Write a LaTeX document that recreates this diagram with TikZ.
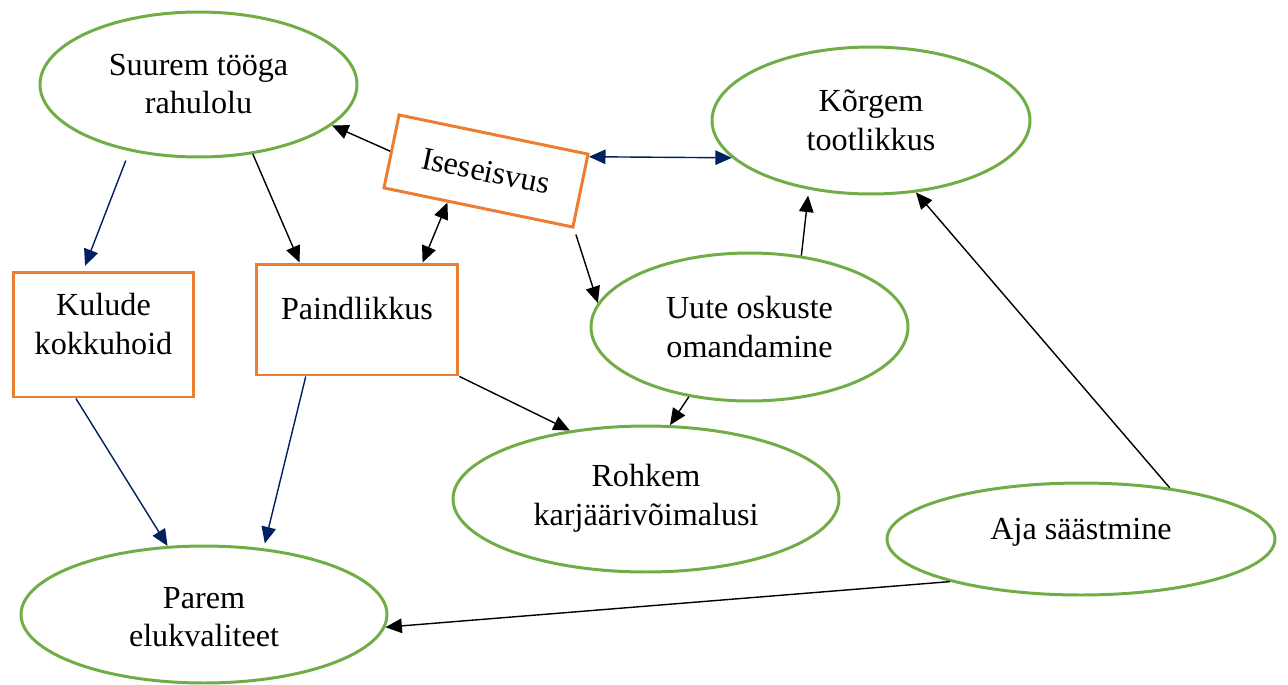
\documentclass[tikz,border=0pt]{standalone}
\usepackage{fontspec}
\setmainfont{Liberation Serif}
\usetikzlibrary{arrows.meta,calc,shapes.geometric}
\definecolor{grn}{RGB}{112,173,71}
\definecolor{org}{RGB}{237,125,49}
\definecolor{nvy}{RGB}{0,32,96}
\begin{document}
\begin{tikzpicture}[x=0.02cm,y=-0.02cm,
 ell/.style={ellipse, draw=grn, line width=1.7pt, inner sep=0pt},
 rbox/.style={rectangle, draw=org, line width=1.7pt, inner sep=0pt},
 txt/.style={align=center, font=\fontsize{18.3}{22}\selectfont, inner sep=0pt},
 arr/.style={-{Triangle[length=0.33cm,width=0.29cm]}, line width=0.8pt},
 darr/.style={{Triangle[length=0.33cm,width=0.29cm]}-{Triangle[length=0.33cm,width=0.29cm]}, line width=0.8pt}]
\useasboundingbox (0,0) rectangle (1288,684);
% ellipses
\node[ell, minimum width=6.34cm, minimum height=2.9cm] (suurem) at (198.5,84.5) {};
\node[txt] (suuremT) at (198.5,84) {Suurem tööga\\rahulolu};
\node[ell, minimum width=6.36cm, minimum height=2.94cm] (korgem) at (871,120.5) {};
\node[txt] (korgemT) at (871,120) {Kõrgem\\tootlikkus};
\node[ell, minimum width=6.34cm, minimum height=2.96cm] (uute) at (749.5,327) {};
\node[txt] (uuteT) at (749.5,327) {Uute oskuste\\omandamine};
\node[ell, minimum width=7.72cm, minimum height=2.92cm] (rohkem) at (646,499) {};
\node[txt] (rohkemT) at (646,498) {Rohkem\\karjäärivõimalusi};
\node[ell, minimum width=7.76cm, minimum height=2.24cm] (aja) at (1081,539) {};
\node[txt] (ajaT) at (1081,532) {Aja säästmine};
\node[ell, minimum width=7.32cm, minimum height=2.74cm] (parem) at (204,614.5) {};
\node[txt] (paremT) at (204,617) {Parem\\elukvaliteet};
% rectangles
\node[rbox, minimum width=3.62cm, minimum height=2.5cm] (kulude) at (103.5,334.5) {};
\node[txt] (kuludeT) at (103.5,324) {Kulude\\kokkuhoid};
\node[rbox, minimum width=4.04cm, minimum height=2.22cm] (paind) at (357,319.5) {};
\node[txt] (paindT) at (357,308) {Paindlikkus};
\node[rbox, rotate=-11.7, minimum width=3.86cm, minimum height=1.49cm, font=\fontsize{18.3}{22}\selectfont] (ise) at (486,171) {Iseseisvus};
% connectors
\draw[arr] (ise.west) -- (suurem.-17);
\draw[darr, nvy] ($(ise.north east)!0.05!(ise.south east)$) -- (korgem.-165);
\draw[darr] ($(ise.south west)!0.34!(ise.south east)$) -- ($(paind.north west)!0.82!(paind.north east)$);
\draw[arr, shorten <=0.12cm] (ise.south east) -- (uute.171);
\draw[arr, nvy, shorten <=0.2cm, shorten >=0.1cm] (suurem.-136.5) -- ($(kulude.north west)!0.39!(kulude.north east)$);
\draw[arr] (suurem.-52.4) -- ($(paind.north west)!0.22!(paind.north east)$);
\draw[arr, shorten >=0.12cm] (uute.54.2) -- (korgem.-132.5);
\draw[arr] (uute.-131.5) -- (rohkem.72.3);
\draw[arr] (paind.south east) -- (rohkem.138.9);
\draw[arr, nvy] ($(kulude.south west)!0.35!(kulude.south east)$) -- (parem.118.7);
\draw[arr, nvy, shorten >=0.1cm] ($(paind.south west)!0.25!(paind.south east)$) -- (parem.48.5);
\draw[arr] (aja.30.9) -- (korgem.-58.7);
\draw[arr] (aja.-162.5) -- (parem.-4);
\end{tikzpicture}
\end{document}
